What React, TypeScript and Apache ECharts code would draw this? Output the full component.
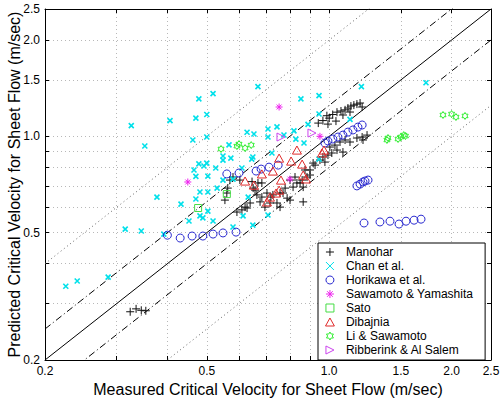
import React, { useEffect, useRef } from 'react';
import * as echarts from 'echarts';

const axisMin = 0.2;
const axisMax = 2.5;
const gridTicks = [0.2, 0.3, 0.4, 0.5, 0.6, 0.7, 0.8, 0.9, 1.0, 1.5, 2.0, 2.5];
const tickLabels = [0.2, 0.5, 1.0, 1.5, 2.0, 2.5];

const solidRatios = [1];
const dashDotRatios = [1.25, 0.8];
const dottedRatios = [2, 0.5];

const manohar = [
  [0.94, 1.10], [0.965, 1.12], [0.987, 1.16], [1.00, 1.14], [1.02, 1.17], [1.045, 1.19], [1.069, 1.20],
  [1.094, 1.21], [1.112, 1.226], [1.131, 1.243], [1.15, 1.252], [1.17, 1.261], [1.191, 1.271], [1.205, 1.235],
  [1.039, 1.116], [1.081, 1.166], [1.125, 1.191], [0.993, 1.092],
  [1.004, 0.926], [1.033, 0.939], [1.063, 0.96], [1.094, 0.974], [1.045, 0.906], [1.015, 0.887], [1.125, 0.96],
  [1.17, 0.988], [1.205, 0.995], [1.239, 1.009], [1.211, 0.974], [0.993, 0.874], [0.965, 0.862], [0.949, 0.843],
  [0.923, 0.813], [0.976, 0.831], [1.081, 0.893],
  [0.913, 0.825], [0.897, 0.785], [0.872, 0.785], [0.882, 0.746], [0.858, 0.73], [0.833, 0.715], [0.863, 0.694],
  [0.824, 0.746], [0.801, 0.73], [0.779, 0.689], [0.757, 0.665], [0.727, 0.656], [0.703, 0.665], [0.683, 0.646],
  [0.664, 0.656], [0.65, 0.689], [0.646, 0.722], [0.668, 0.715], [0.683, 0.715], [0.628, 0.597], [0.61, 0.589],
  [0.593, 0.58], [0.639, 0.619], [0.676, 0.624], [0.715, 0.619], [0.695, 0.601], [0.863, 0.624], [0.801, 0.632],
  [0.788, 0.641], [0.77, 0.665], [0.815, 0.694], [0.744, 0.619], [0.719, 0.646], [0.757, 0.601], [0.58, 0.746],
  [0.57, 0.73], [0.56, 0.665], [0.554, 0.632], [0.563, 0.689], [0.603, 0.73], [0.621, 0.601], [0.657, 0.679],
  [0.848, 0.715], [0.897, 0.757],
  [0.324, 0.283], [0.335, 0.289], [0.345, 0.286], [0.354, 0.285],
];

const chan = [
  [0.478, 1.31], [0.50, 1.17], [0.47, 1.14], [0.326, 1.08], [0.406, 1.12], [0.50, 0.995], [0.462, 0.974],
  [0.352, 0.933], [0.478, 0.82], [0.50, 0.825], [0.492, 0.808], [0.465, 0.785], [0.47, 0.75], [0.503, 0.751],
  [0.481, 0.67], [0.503, 0.67], [0.377, 0.646], [0.47, 0.637], [0.432, 0.614], [0.503, 0.584], [0.452, 0.544],
  [0.481, 0.564], [0.489, 0.556], [0.315, 0.513], [0.345, 0.506], [0.392, 0.495], [0.286, 0.363], [0.24, 0.353],
  [0.225, 0.34], [0.668, 1.43], [0.518, 1.36], [0.944, 1.34], [0.852, 1.31], [0.944, 1.174], [0.887, 1.09],
  [0.744, 1.07], [0.628, 1.03], [0.653, 1.017], [0.707, 1.054], [0.707, 0.995], [0.819, 1.04], [0.774, 1.01],
  [0.828, 0.98], [0.867, 0.953], [0.567, 0.94], [0.548, 0.868], [0.548, 0.843], [0.573, 0.855], [0.649, 0.862],
  [0.645, 0.849], [0.723, 0.887], [0.526, 0.796], [0.61, 0.796], [0.548, 0.73], [0.53, 0.689], [0.58, 0.735],
  [0.632, 0.646], [0.614, 0.564], [0.707, 0.568], [0.518, 0.544], [0.58, 0.521], [0.649, 0.528], [0.944, 0.849],
  [1.20, 1.43], [1.73, 1.47], [1.125, 1.13],
];

const horikawa = [
  [0.40, 0.491], [0.43, 0.481], [0.46, 0.488], [0.489, 0.488], [0.518, 0.495], [0.548, 0.499], [0.59, 0.502],
  [0.56, 0.763], [0.60, 0.768], [0.661, 0.779], [0.68, 0.79], [0.711, 0.801], [0.749, 0.813],
  [0.976, 0.953], [0.993, 0.967], [1.021, 0.981], [1.051, 0.995], [1.081, 1.009], [1.112, 1.031], [1.144, 1.047],
  [1.177, 1.069], [1.205, 1.085],
  [1.17, 0.70], [1.191, 0.709], [1.211, 0.72], [1.225, 0.725], [1.246, 0.73],
  [1.218, 0.536], [1.333, 0.54], [1.411, 0.543], [1.485, 0.532], [1.545, 0.543], [1.617, 0.547], [1.682, 0.551],
];

const sawamotoYamashita = [[0.449, 0.72], [0.753, 1.235], [0.949, 1.0], [0.801, 0.735]];

const sato = [[0.476, 0.597], [0.56, 0.66]];

const dibajnia = [
  [0.621, 0.725], [0.653, 0.704], [0.683, 0.763], [0.727, 0.779], [0.753, 0.855], [0.806, 0.837], [0.833, 0.906],
  [0.858, 0.819], [0.761, 0.73], [0.74, 0.665], [0.715, 0.646], [0.703, 0.624], [0.753, 0.679], [0.863, 0.757],
  [0.877, 0.736], [0.96, 0.887], [0.971, 0.906],
];

const liSawamoto = [
  [0.542, 0.913], [0.60, 0.946], [0.593, 0.932], [0.621, 0.919], [0.643, 0.939],
  [1.395, 0.988], [1.387, 0.974], [1.477, 0.981], [1.50, 0.995], [1.525, 1.009], [1.54, 1.002],
  [1.905, 1.166], [2.0, 1.174], [2.05, 1.149], [2.158, 1.158],
];

const ribberinkAlSalem = [[0.761, 0.995], [0.907, 1.024]];

const L = (v: number) => Math.log10(v);
const FONT = "'Liberation Sans', Arial, Helvetica, sans-serif";

const PLUS = 'path://M5 0 L5 10 M0 5 L10 5';
const CROSS = 'path://M0 0 L10 10 M10 0 L0 10';
const STAR = 'path://M5 0 L5 10 M0 5 L10 5 M1.5 1.5 L8.5 8.5 M8.5 1.5 L1.5 8.5';
const HEXAGRAM = 'path://M5 0 L6.44 2.5 L9.33 2.5 L7.89 5 L9.33 7.5 L6.44 7.5 L5 10 L3.56 7.5 L0.67 7.5 L2.11 5 L0.67 2.5 L3.56 2.5 Z';
const RTRI = 'path://M0 0 L10 5 L0 10 Z';
const UTRI = 'path://M5 0 L10 9 L0 9 Z';
const SQUARE = 'path://M0 0 L10 0 L10 10 L0 10 Z';

export default function App() {
  const ref = useRef<HTMLDivElement>(null);
  useEffect(() => {
    document.body.style.margin = '0';
    if (!ref.current) return;
    const chart = echarts.init(ref.current, undefined, { renderer: 'svg' });

    const scatter = (name: string, data: number[][], symbol: string, size: number, color: string, width = 1) => ({
      name,
      type: 'scatter',
      data: data.map((d) => [L(d[0]), L(d[1])]),
      symbol,
      symbolSize: size,
      symbolKeepAspect: true,
      itemStyle: { color: 'rgba(0,0,0,0)', borderColor: color, borderWidth: width, opacity: 1 },
      emphasis: { disabled: true },
      z: 3,
    });

    const refLine = (r: number, lineStyle: any) => ({
      name: 'ref' + r,
      type: 'line',
      data: [[L(axisMin), L(axisMin * r)], [L(axisMax), L(axisMax * r)]],
      symbol: 'none',
      lineStyle,
      silent: true,
      z: 2,
    });

    const axisCommon = {
      type: 'value',
      min: L(axisMin),
      max: L(axisMax),
      axisLine: { show: true, onZero: false, lineStyle: { color: '#000', width: 1 } },
      axisTick: { show: true, inside: true, length: 4, customValues: gridTicks.map(L), lineStyle: { color: '#000' } },
    };

    const fmt = (v: number) => Math.pow(10, v).toFixed(1);

    chart.setOption({
      animation: false,
      backgroundColor: '#fff',
      grid: { left: 45, right: 12, top: 9, bottom: 38, outerBoundsMode: 'none' },
      xAxis: [
        {
          ...axisCommon,
          position: 'bottom',
          axisLabel: { customValues: tickLabels.map(L), formatter: fmt, color: '#000', fontSize: 12, fontFamily: FONT, margin: 5 },
          splitLine: { show: true, lineStyle: { color: '#b8b8b8', type: [1, 3], width: 1 } },
          name: 'Measured Critical Velocity for Sheet Flow (m/sec)',
          nameLocation: 'middle',
          nameGap: 21,
          nameMoveOverlap: false,
          nameTextStyle: { fontSize: 16, color: '#000', fontFamily: FONT },
        },
        { ...axisCommon, position: 'top', axisLabel: { show: false }, splitLine: { show: false } },
      ],
      yAxis: [
        {
          ...axisCommon,
          position: 'left',
          axisLabel: { customValues: tickLabels.map(L), formatter: fmt, color: '#000', fontSize: 12, fontFamily: FONT, margin: 5 },
          splitLine: { show: true, lineStyle: { color: '#b8b8b8', type: [1, 3], width: 1 } },
          name: 'Predicted Critical Velocity for Sheet Flow (m/sec)',
          nameLocation: 'middle',
          nameGap: 23,
          nameMoveOverlap: false,
          nameTextStyle: { fontSize: 16, color: '#000', fontFamily: FONT },
        },
        { ...axisCommon, position: 'right', axisLabel: { show: false }, splitLine: { show: false } },
      ],
      legend: {
        data: ['Manohar', 'Chan et al.', 'Horikawa et al.', 'Sawamoto & Yamashita', 'Sato', 'Dibajnia', 'Li & Sawamoto', 'Ribberink & Al Salem'],
        orient: 'vertical',
        left: 318,
        top: 243,
        itemWidth: 22,
        itemHeight: 8,
        itemGap: 0,
        padding: [2, 12, 3, 7],
        backgroundColor: '#fff',
        borderColor: '#000',
        borderWidth: 1,
        borderRadius: 0,
        selectedMode: false,
        symbolKeepAspect: true,
        itemStyle: { borderWidth: 1 },
        textStyle: { fontSize: 12, color: '#000', fontFamily: FONT, lineHeight: 14 },
        z: 10,
      },
      series: [
        ...dottedRatios.map((r) => refLine(r, { color: '#666', width: 1, type: [1, 3] })),
        ...dashDotRatios.map((r) => refLine(r, { color: '#000', width: 1, type: [7, 3, 1, 3] })),
        ...solidRatios.map((r) => refLine(r, { color: '#000', width: 1, type: 'solid' })),
        scatter('Manohar', manohar, PLUS, 8, '#111'),
        scatter('Chan et al.', chan, CROSS, 5, '#00e0ea', 1.6),
        scatter('Horikawa et al.', horikawa, 'circle', 8, '#2a2ad0'),
        scatter('Sawamoto & Yamashita', sawamotoYamashita, STAR, 7, '#ee22ee'),
        scatter('Sato', sato, SQUARE, 7, '#44dd44'),
        scatter('Dibajnia', dibajnia, UTRI, 9, '#e02a2a'),
        scatter('Li & Sawamoto', liSawamoto, HEXAGRAM, 7, '#33ee33'),
        scatter('Ribberink & Al Salem', ribberinkAlSalem, RTRI, 8, '#cc44ee'),
      ],
    });
    return () => chart.dispose();
  }, []);
  return <div ref={ref} style={{ width: 503, height: 398 }} />;
}
